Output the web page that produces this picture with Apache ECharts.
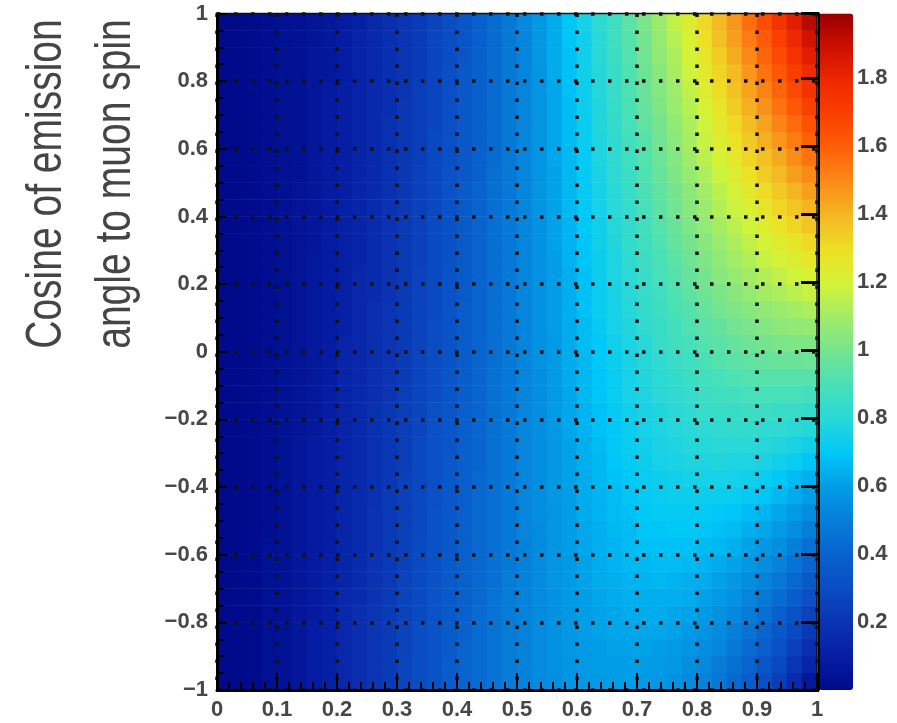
<!DOCTYPE html>
<html>
<head>
<meta charset="utf-8">
<script src="https://cdn.jsdelivr.net/npm/echarts@6/dist/echarts.min.js"></script>
<style>
  html, body { margin: 0; padding: 0; background: #ffffff; }
  #chart { width: 897px; height: 723px; }
</style>
</head>
<body>
<div id="chart"></div>
<script>
// Reduced positron energy, bin centres (40 bins of 0.025)
const energyBins = [0.0125,0.0375,0.0625,0.0875,0.1125,0.1375,0.1625,0.1875,0.2125,0.2375,
                    0.2625,0.2875,0.3125,0.3375,0.3625,0.3875,0.4125,0.4375,0.4625,0.4875,
                    0.5125,0.5375,0.5625,0.5875,0.6125,0.6375,0.6625,0.6875,0.7125,0.7375,
                    0.7625,0.7875,0.8125,0.8375,0.8625,0.8875,0.9125,0.9375,0.9625,0.9875];
// Cosine of emission angle to muon spin, bin centres bottom to top (40 bins of 0.05)
const cosineBins = [-0.975,-0.925,-0.875,-0.825,-0.775,-0.725,-0.675,-0.625,-0.575,-0.525,
                    -0.475,-0.425,-0.375,-0.325,-0.275,-0.225,-0.175,-0.125,-0.075,-0.025,
                     0.025, 0.075, 0.125, 0.175, 0.225, 0.275, 0.325, 0.375, 0.425, 0.475,
                     0.525, 0.575, 0.625, 0.675, 0.725, 0.775, 0.825, 0.875, 0.925, 0.975];
// Decay rate: one array per energy bin, listed over cosineBins (bottom to top)
const rateByEnergy = [
  [0,0,0,0,0,0,0,0,0,0, 0,0,0,0,0,0,0,0,0,0, 0,0,0,0,0,0,0,0,0,0, 0,0,0,0,0,0,0,0,0,0],
  [0,0,0,0,0,0,0,0,0,0, 0,0,0,0,0,0,0,0,0,0, 0,0,0,0,0,0,0,0,0,0, 0,0,0,0,0,0,0,0,0,0],
  [.01,.01,.01,.01,.01,.01,.01,.01,.01,.01, .01,.01,.01,.01,.01,.01,.01,.01,.01,.01, .01,.01,.01,.01,.01,.01,.01,.01,.01,.01, .01,.01,.01,.01,.01,.01,.01,.01,.01,.01],
  [.03,.03,.03,.03,.03,.03,.03,.03,.03,.02, .02,.02,.02,.02,.02,.02,.02,.02,.02,.02, .02,.02,.02,.02,.02,.02,.02,.02,.02,.02, .02,.02,.02,.02,.02,.02,.02,.02,.02,.02],
  [.04,.04,.04,.04,.04,.04,.04,.04,.04,.04, .04,.04,.04,.04,.04,.04,.04,.04,.04,.04, .03,.03,.03,.03,.03,.03,.03,.03,.03,.03, .03,.03,.03,.03,.03,.03,.03,.03,.03,.03],
  [.06,.06,.06,.06,.06,.06,.06,.06,.06,.06, .06,.06,.06,.06,.06,.05,.05,.05,.05,.05, .05,.05,.05,.05,.05,.05,.05,.05,.05,.05, .04,.04,.04,.04,.04,.04,.04,.04,.04,.04],
  [.09,.09,.09,.09,.08,.08,.08,.08,.08,.08, .08,.08,.08,.08,.08,.07,.07,.07,.07,.07, .07,.07,.07,.07,.07,.07,.06,.06,.06,.06, .06,.06,.06,.06,.06,.06,.06,.06,.05,.05],
  [.11,.11,.11,.11,.11,.11,.11,.11,.10,.10, .10,.10,.10,.10,.10,.10,.10,.10,.09,.09, .09,.09,.09,.09,.09,.09,.09,.08,.08,.08, .08,.08,.08,.08,.08,.08,.07,.07,.07,.07],
  [.14,.14,.14,.14,.14,.14,.13,.13,.13,.13, .13,.13,.13,.12,.12,.12,.12,.12,.12,.12, .12,.11,.11,.11,.11,.11,.11,.11,.11,.10, .10,.10,.10,.10,.10,.10,.09,.09,.09,.09],
  [.17,.17,.17,.17,.17,.16,.16,.16,.16,.16, .16,.16,.15,.15,.15,.15,.15,.15,.14,.14, .14,.14,.14,.14,.14,.13,.13,.13,.13,.13, .13,.13,.12,.12,.12,.12,.12,.12,.12,.11],
  [.20,.20,.20,.20,.20,.19,.19,.19,.19,.19, .19,.18,.18,.18,.18,.18,.18,.17,.17,.17, .17,.17,.17,.16,.16,.16,.16,.16,.16,.15, .15,.15,.15,.15,.15,.15,.14,.14,.14,.14],
  [.23,.23,.23,.23,.23,.23,.22,.22,.22,.22, .22,.22,.21,.21,.21,.21,.21,.20,.20,.20, .20,.20,.20,.19,.19,.19,.19,.19,.19,.18, .18,.18,.18,.18,.17,.17,.17,.17,.17,.17],
  [.27,.27,.26,.26,.26,.26,.26,.25,.25,.25, .25,.25,.25,.24,.24,.24,.24,.24,.23,.23, .23,.23,.23,.23,.22,.22,.22,.22,.22,.21, .21,.21,.21,.21,.21,.20,.20,.20,.20,.20],
  [.30,.30,.30,.30,.29,.29,.29,.29,.29,.28, .28,.28,.28,.28,.28,.27,.27,.27,.27,.27, .26,.26,.26,.26,.26,.25,.25,.25,.25,.25, .25,.24,.24,.24,.24,.24,.23,.23,.23,.23],
  [.33,.33,.33,.33,.33,.33,.32,.32,.32,.32, .32,.31,.31,.31,.31,.31,.31,.30,.30,.30, .30,.30,.29,.29,.29,.29,.29,.29,.28,.28, .28,.28,.28,.27,.27,.27,.27,.27,.27,.26],
  [.37,.37,.36,.36,.36,.36,.36,.36,.35,.35, .35,.35,.35,.35,.34,.34,.34,.34,.34,.33, .33,.33,.33,.33,.33,.32,.32,.32,.32,.32, .32,.31,.31,.31,.31,.31,.31,.30,.30,.30],
  [.40,.40,.40,.39,.39,.39,.39,.39,.39,.39, .38,.38,.38,.38,.38,.38,.38,.37,.37,.37, .37,.37,.37,.36,.36,.36,.36,.36,.36,.36, .35,.35,.35,.35,.35,.35,.35,.34,.34,.34],
  [.43,.43,.43,.43,.43,.42,.42,.42,.42,.42, .42,.42,.42,.41,.41,.41,.41,.41,.41,.41, .41,.40,.40,.40,.40,.40,.40,.40,.40,.40, .39,.39,.39,.39,.39,.39,.39,.39,.38,.38],
  [.46,.46,.46,.46,.46,.46,.45,.45,.45,.45, .45,.45,.45,.45,.45,.45,.45,.45,.45,.44, .44,.44,.44,.44,.44,.44,.44,.44,.44,.44, .44,.43,.43,.43,.43,.43,.43,.43,.43,.43],
  [.49,.49,.49,.49,.49,.49,.49,.48,.48,.48, .48,.48,.48,.48,.48,.48,.48,.48,.48,.48, .48,.48,.48,.48,.48,.48,.48,.48,.48,.48, .48,.48,.48,.48,.48,.48,.48,.48,.48,.48],
  [.51,.51,.51,.51,.51,.51,.51,.51,.51,.52, .52,.52,.52,.52,.52,.52,.52,.52,.52,.52, .52,.52,.52,.52,.52,.52,.52,.52,.52,.52, .52,.52,.52,.52,.52,.52,.52,.52,.52,.53],
  [.54,.54,.54,.54,.54,.54,.54,.54,.54,.54, .55,.55,.55,.55,.55,.55,.55,.55,.55,.56, .56,.56,.56,.56,.56,.56,.56,.56,.57,.57, .57,.57,.57,.57,.57,.57,.57,.58,.58,.58],
  [.55,.56,.56,.56,.56,.56,.57,.57,.57,.57, .57,.58,.58,.58,.58,.58,.59,.59,.59,.59, .59,.60,.60,.60,.60,.60,.61,.61,.61,.61, .61,.62,.62,.62,.62,.62,.63,.63,.63,.63],
  [.57,.57,.58,.58,.58,.59,.59,.59,.60,.60, .60,.60,.61,.61,.61,.62,.62,.62,.63,.63, .63,.63,.64,.64,.64,.65,.65,.65,.66,.66, .66,.66,.67,.67,.67,.68,.68,.68,.69,.69],
  [.58,.59,.59,.60,.60,.60,.61,.61,.62,.62, .63,.63,.63,.64,.64,.65,.65,.66,.66,.66, .67,.67,.68,.68,.68,.69,.69,.70,.70,.71, .71,.71,.72,.72,.73,.73,.74,.74,.74,.75],
  [.59,.60,.60,.61,.61,.62,.63,.63,.64,.64, .65,.65,.66,.66,.67,.68,.68,.69,.69,.70, .70,.71,.72,.72,.73,.73,.74,.74,.75,.75, .76,.77,.77,.78,.78,.79,.79,.80,.80,.81],
  [.60,.60,.61,.62,.62,.63,.64,.65,.65,.66, .67,.67,.68,.69,.70,.70,.71,.72,.72,.73, .74,.75,.75,.76,.77,.77,.78,.79,.80,.80, .81,.82,.82,.83,.84,.85,.85,.86,.87,.87],
  [.60,.60,.61,.62,.63,.64,.65,.66,.67,.67, .68,.69,.70,.71,.72,.73,.74,.75,.75,.76, .77,.78,.79,.80,.81,.82,.83,.83,.84,.85, .86,.87,.88,.89,.90,.91,.91,.92,.93,.94],
  [.59,.60,.61,.62,.63,.64,.65,.66,.68,.69, .70,.71,.72,.73,.74,.75,.76,.77,.78,.79, .80,.82,.83,.84,.85,.86,.87,.88,.89,.90, .91,.92,.93,.95,.96,.97,.98,.99,1.00,1.01],
  [.58,.59,.60,.62,.63,.64,.66,.67,.68,.69, .71,.72,.73,.75,.76,.77,.78,.80,.81,.82, .84,.85,.86,.87,.89,.90,.91,.93,.94,.95, .97,.98,.99,1.00,1.02,1.03,1.04,1.06,1.07,1.08],
  [.56,.58,.59,.61,.62,.64,.65,.67,.68,.70, .71,.73,.74,.76,.77,.79,.80,.82,.83,.85, .87,.88,.90,.91,.93,.94,.96,.97,.99,1.00, 1.02,1.03,1.05,1.06,1.08,1.09,1.11,1.12,1.14,1.16],
  [.54,.55,.57,.59,.61,.63,.64,.66,.68,.70, .71,.73,.75,.77,.79,.80,.82,.84,.86,.87, .89,.91,.93,.95,.96,.98,1.00,1.02,1.04,1.05, 1.07,1.09,1.11,1.12,1.14,1.16,1.18,1.20,1.21,1.23],
  [.51,.53,.55,.57,.59,.61,.63,.65,.67,.69, .71,.73,.75,.77,.79,.81,.84,.86,.88,.90, .92,.94,.96,.98,1.00,1.02,1.04,1.06,1.08,1.10, 1.12,1.15,1.17,1.19,1.21,1.23,1.25,1.27,1.29,1.31],
  [.47,.49,.52,.54,.56,.59,.61,.63,.66,.68, .70,.73,.75,.78,.80,.82,.85,.87,.89,.92, .94,.96,.99,1.01,1.04,1.06,1.08,1.11,1.13,1.15, 1.18,1.20,1.23,1.25,1.27,1.30,1.32,1.34,1.37,1.39],
  [.42,.45,.48,.50,.53,.56,.58,.61,.64,.67, .69,.72,.75,.77,.80,.83,.85,.88,.91,.94, .96,.99,1.02,1.04,1.07,1.10,1.12,1.15,1.18,1.20, 1.23,1.26,1.29,1.31,1.34,1.37,1.39,1.42,1.45,1.47],
  [.37,.40,.43,.46,.49,.52,.55,.58,.61,.64, .67,.71,.74,.77,.80,.83,.86,.89,.92,.95, .98,1.01,1.04,1.07,1.10,1.13,1.16,1.19,1.22,1.25, 1.29,1.32,1.35,1.38,1.41,1.44,1.47,1.50,1.53,1.56],
  [.31,.34,.38,.41,.45,.48,.51,.55,.58,.62, .65,.69,.72,.76,.79,.82,.86,.89,.93,.96, 1.00,1.03,1.06,1.10,1.13,1.17,1.20,1.24,1.27,1.30, 1.34,1.37,1.41,1.44,1.48,1.51,1.55,1.58,1.61,1.65],
  [.24,.28,.32,.35,.39,.43,.47,.51,.55,.59, .62,.66,.70,.74,.78,.82,.85,.89,.93,.97, 1.01,1.05,1.08,1.12,1.16,1.20,1.24,1.28,1.32,1.35, 1.39,1.43,1.47,1.51,1.55,1.58,1.62,1.66,1.70,1.74],
  [.16,.20,.25,.29,.33,.37,.42,.46,.50,.55, .59,.63,.67,.72,.76,.80,.85,.89,.93,.97, 1.02,1.06,1.10,1.15,1.19,1.23,1.27,1.32,1.36,1.40, 1.45,1.49,1.53,1.57,1.62,1.66,1.70,1.75,1.79,1.83],
  [.07,.12,.17,.22,.26,.31,.36,.41,.45,.50, .55,.60,.64,.69,.74,.79,.83,.88,.93,.98, 1.02,1.07,1.12,1.17,1.21,1.26,1.31,1.36,1.40,1.45, 1.50,1.55,1.59,1.64,1.69,1.74,1.78,1.83,1.88,1.93]
];
// Tick labels
const energyTickLabels = ['0','0.1','0.2','0.3','0.4','0.5','0.6','0.7','0.8','0.9','1'];
const cosineTickLabels = ['\u22121','\u22120.8','\u22120.6','\u22120.4','\u22120.2','0','0.2','0.4','0.6','0.8','1'];
const colorTickLabels = ['', '0.2','0.4','0.6','0.8','1','1.2','1.4','1.6','1.8'];
const zMax = 1.99;

// Rainbow palette, evenly spread from 0 to zMax
const palette = ['#000a8a','#061ea4','#0a34b2','#0a4cc2','#0862ce','#067ed8','#029ce6','#00c8f8',
                 '#28d8d8','#48e0b8','#74e490','#a0ec68','#d2f438','#eee024','#f4b824','#fa8c18',
                 '#ff6008','#fa4000','#ee2800','#cc1000','#980000'];

const heatData = [];
rateByEnergy.forEach((col, xi) => col.forEach((v, yi) => heatData.push([xi, yi, v])));

const FONT = '"Liberation Sans", Arial, Helvetica, sans-serif';
const labelStyle = { fontFamily: FONT, fontSize: 22, fontWeight: 'bold', color: '#474747' };
const dotted = { color: '#111', width: 3.5, type: [3.5, 13.5], cap: 'butt' };
const titleStyle = { fontFamily: FONT, fontSize: 39, fill: '#454545', align: 'center', verticalAlign: 'middle' };

const chart = echarts.init(document.getElementById('chart'), null, { renderer: 'canvas' });
chart.setOption({
  animation: false,
  backgroundColor: '#ffffff',
  grid: [
    { left: 217, right: 80, top: 13.5, bottom: 33, show: true, z: 6,
      backgroundColor: 'transparent', borderColor: '#111', borderWidth: 1.5 },
    { left: 819, right: 44, top: 13.5, bottom: 33, show: false }
  ],
  xAxis: [
    { type: 'category', gridIndex: 0, data: energyBins, show: false },
    { type: 'value', gridIndex: 0, min: 0, max: 1, interval: 0.1, position: 'bottom', z: 8,
      axisLine: { show: true, onZero: false, lineStyle: { color: '#000', width: 3 } },
      axisTick: { show: true, inside: true, length: 17, lineStyle: { color: '#000', width: 2 } },
      minorTick: { show: true, splitNumber: 5, length: 8, lineStyle: { color: '#000', width: 2 } },
      axisLabel: Object.assign({ margin: 9,
        formatter: v => energyTickLabels[Math.round(v * 10)] }, labelStyle),
      splitLine: { show: true, lineStyle: dotted } },
    { type: 'value', gridIndex: 1, min: 0, max: 1, show: false }
  ],
  yAxis: [
    { type: 'category', gridIndex: 0, data: cosineBins, show: false },
    { type: 'value', gridIndex: 0, min: -1, max: 1, interval: 0.2, position: 'left', z: 8,
      axisLine: { show: true, onZero: false, lineStyle: { color: '#000', width: 3 } },
      axisTick: { show: true, inside: true, length: 10, lineStyle: { color: '#000', width: 2 } },
      minorTick: { show: true, splitNumber: 4, length: 7, lineStyle: { color: '#000', width: 2 } },
      axisLabel: Object.assign({ margin: 9,
        formatter: v => cosineTickLabels[Math.round((v + 1) * 5)] }, labelStyle),
      splitLine: { show: true, lineStyle: dotted } },
    { type: 'value', gridIndex: 1, min: 0, max: zMax, interval: 0.2, position: 'right', z: 8,
      axisLine: { show: true, lineStyle: { color: '#000', width: 2 } },
      axisTick: { show: true, inside: true, length: 18, lineStyle: { color: '#000', width: 3 } },
      axisLabel: Object.assign({ margin: 4, formatter: v => {
        const k = Math.round(v / 0.2);
        return Math.abs(v - k * 0.2) < 1e-6 ? (colorTickLabels[k] || '') : '';
      } }, labelStyle),
      splitLine: { show: false } }
  ],
  visualMap: {
    type: 'continuous', min: 0, max: zMax, seriesIndex: 0, calculable: false,
    orient: 'vertical', left: 819, top: 13.5, padding: 0,
    itemWidth: 34, itemHeight: 676.5, text: null, hoverLink: false,
    inRange: { color: palette }
  },
  graphic: [
    { type: 'text', x: 47, y: 184, rotation: Math.PI / 2, scaleY: 1.3,
      style: Object.assign({ text: 'Cosine of emission' }, titleStyle) },
    { type: 'text', x: 116, y: 184, rotation: Math.PI / 2, scaleY: 1.3,
      style: Object.assign({ text: 'angle to muon spin' }, titleStyle) }
  ],
  series: [
    { type: 'heatmap', xAxisIndex: 0, yAxisIndex: 0, data: heatData, progressive: 0 }
  ]
});
</script>
</body>
</html>
